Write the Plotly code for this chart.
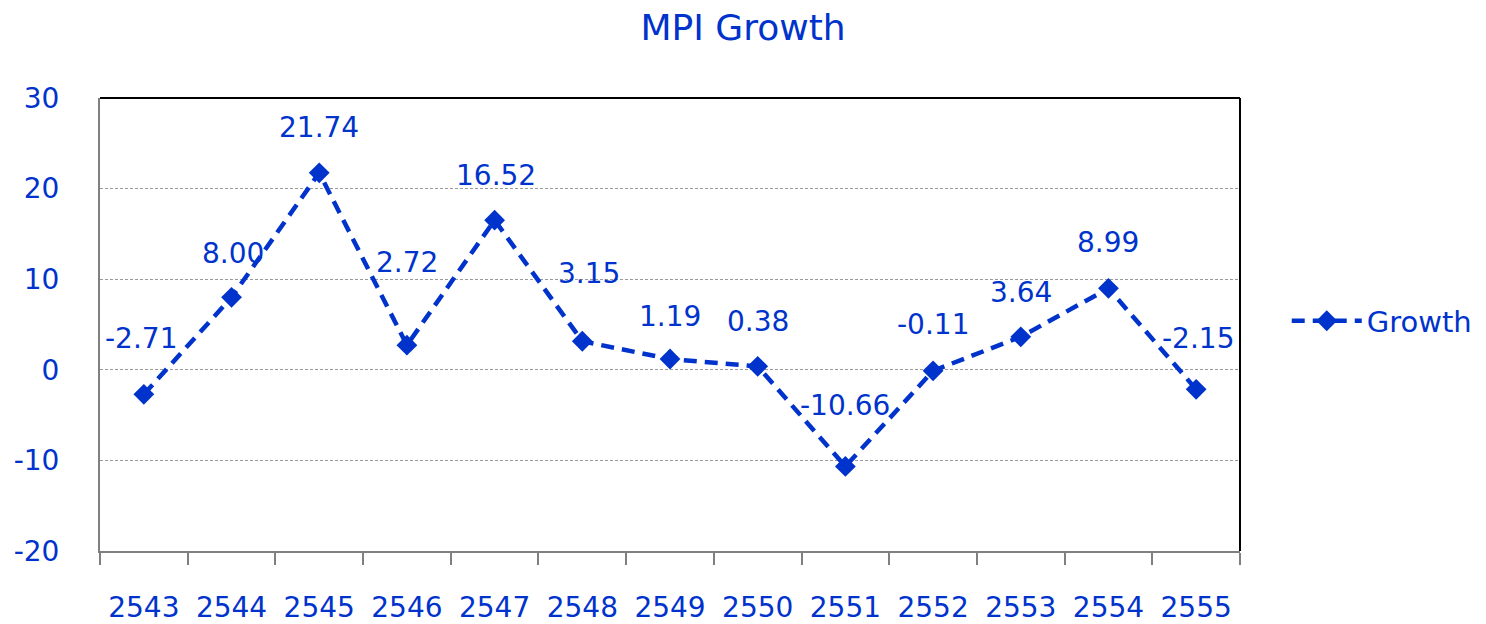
import plotly.graph_objects as go

years = ["2543", "2544", "2545", "2546", "2547", "2548", "2549",
         "2550", "2551", "2552", "2553", "2554", "2555"]
growth = [-2.71, 8.00, 21.74, 2.72, 16.52, 3.15, 1.19,
          0.38, -10.66, -0.11, 3.64, 8.99, -2.15]
y_ticks = [-20, -10, 0, 10, 20, 30]

# label placement offsets (pixels) relative to each point
label_dy = [56, 44, 45, 83, 45, 68, 43, 45, 61, 46, 44, 46, 51]
label_dx = [-3, 1, 0, 0, 1, 7, 0, 0, 0, 0, 0, 0, 2]

BLUE = "#0033CC"
FONT = "DejaVu Sans"

fig = go.Figure()
fig.add_trace(go.Scatter(
    x=years, y=growth, name="Growth", mode="lines+markers",
    line=dict(color=BLUE, width=4.5, dash="13px,8px"),
    marker=dict(symbol="diamond", size=16, color=BLUE),
))

# annotations placed by category index on the category axis
for i, (v, dy, dx) in enumerate(zip(growth, label_dy, label_dx)):
    fig.add_annotation(x=i, y=v, text=f"{v:.2f}", showarrow=False,
                       yshift=dy, xshift=dx,
                       font=dict(family=FONT, size=28, color=BLUE))

# top and right frame lines
fig.add_shape(type="line", xref="paper", yref="paper", x0=0, x1=1, y0=1, y1=1,
              line=dict(color="black", width=2))
fig.add_shape(type="line", xref="paper", yref="paper", x0=1, x1=1, y0=0, y1=1,
              line=dict(color="black", width=2))

fig.update_layout(
    width=1470, height=616,
    margin=dict(l=92, r=238, t=90, b=73, autoexpand=False),
    paper_bgcolor="white", plot_bgcolor="white",
    font=dict(family=FONT, size=28, color=BLUE),
    title=dict(text="MPI Growth", x=0.5, xanchor="center", xref="container",
               y=1 - 19 / 616, yanchor="middle", yref="container",
               font=dict(family=FONT, size=36, color=BLUE)),
    showlegend=True,
    legend=dict(x=1.041, y=0.508, xanchor="left", yanchor="middle",
                font=dict(family=FONT, size=29, color=BLUE),
                itemwidth=70, bgcolor="rgba(0,0,0,0)"),
    xaxis=dict(type="category", categoryorder="array", categoryarray=years,
               range=[-0.5, len(years) - 0.5],
               tickson="boundaries", ticks="outside",
               ticklen=12, tickwidth=2, tickcolor="#808080",
               showline=True, linecolor="#808080", linewidth=2,
               showgrid=False, zeroline=False, automargin=False,
               tickangle=0,
               tickfont=dict(family=FONT, size=28, color=BLUE),
               ticklabelstandoff=30),
    yaxis=dict(range=[-20, 30], tickvals=y_ticks,
               ticktext=[str(v) for v in y_ticks], ticks="",
               showline=True, linecolor="#808080", linewidth=2,
               showgrid=True, gridcolor="#999999", griddash="3px,2px", gridwidth=1,
               zeroline=False, automargin=False,
               tickfont=dict(family=FONT, size=28, color=BLUE),
               ticklabelstandoff=33),
)

fig.write_html("out.html")
